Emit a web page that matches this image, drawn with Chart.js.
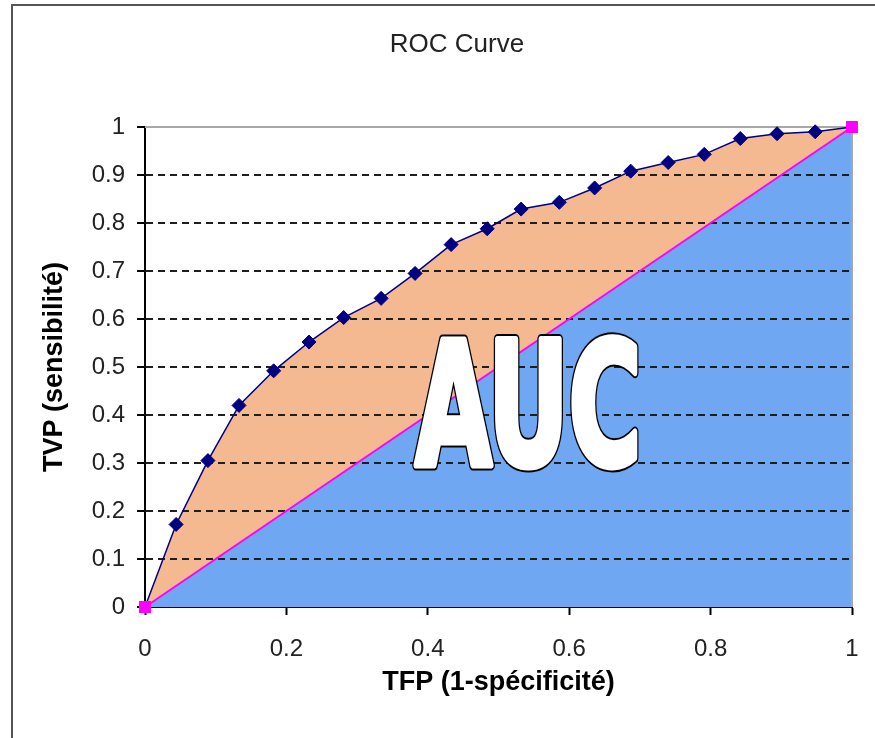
<!DOCTYPE html>
<html>
<head>
<meta charset="utf-8">
<script src="https://cdn.jsdelivr.net/npm/chart.js@4.4.1/dist/chart.umd.min.js"></script>
<style>
  html, body { margin: 0; padding: 0; background: #fff; }
</style>
</head>
<body>
<canvas id="roc" width="875" height="738"></canvas>
<script>
const tfp = [0, 0.044, 0.089, 0.133, 0.182, 0.232, 0.281, 0.334, 0.382, 0.433, 0.484,
             0.532, 0.586, 0.636, 0.687, 0.740, 0.791, 0.842, 0.894, 0.948, 1];
const tvp = [0, 0.172, 0.305, 0.420, 0.492, 0.552, 0.603, 0.643, 0.695, 0.755, 0.788,
             0.829, 0.843, 0.873, 0.908, 0.926, 0.943, 0.976, 0.986, 0.990, 1];
const diagX = [0, 1];
const diagY = [0, 1];

const FONT = '"Liberation Sans", Arial, sans-serif';
Chart.defaults.font.family = FONT;

const rocPoints = tfp.map((v, i) => ({ x: v, y: tvp[i] }));
const diagPoints = diagX.map((v, i) => ({ x: v, y: diagY[i] }));

// cadre, titre, grille au-dessus des aires, texte AUC
const decor = {
  id: 'decor',
  beforeDraw(chart) {
    const ctx = chart.ctx;
    ctx.save();
    ctx.fillStyle = '#fff';
    ctx.fillRect(0, 0, chart.width, chart.height);
    ctx.strokeStyle = '#555';
    ctx.lineWidth = 2;
    ctx.beginPath();
    ctx.moveTo(12, chart.height);
    ctx.lineTo(12, 5);
    ctx.lineTo(chart.width, 5);
    ctx.stroke();
    ctx.fillStyle = '#222';
    ctx.font = '26px ' + FONT;
    ctx.textAlign = 'center';
    ctx.textBaseline = 'middle';
    ctx.fillText('ROC Curve', 457, 45);
    ctx.restore();
  },
  beforeDatasetsDraw(chart) {
    const ctx = chart.ctx;
    chart.scales.y.drawGrid(chart.chartArea);
    const { left, top, right, bottom } = chart.chartArea;
    ctx.save();
    ctx.strokeStyle = '#a8a8a8';
    ctx.lineWidth = 2;
    ctx.beginPath();
    ctx.moveTo(left, top);
    ctx.lineTo(right, top);
    ctx.lineTo(right, bottom);
    ctx.stroke();
    ctx.restore();
  },
  afterDraw(chart) {
    const { ctx, scales: { x, y } } = chart;
    const cx = x.getPixelForValue(0.542);
    const base = y.getPixelForValue(0.296);
    ctx.save();
    ctx.font = 'bold 172px "Liberation Sans Narrow", "DejaVu Sans Condensed", ' + FONT;
    const w = ctx.measureText('AUC').width;
    ctx.translate(cx, base);
    ctx.scale(226 / w, 1);
    ctx.textAlign = 'center';
    ctx.textBaseline = 'alphabetic';
    ctx.lineJoin = 'round';
    // contour noir épais puis remplissage blanc pour un lettrage plus gras
    ctx.lineWidth = 11;
    ctx.strokeStyle = '#000';
    ctx.strokeText('AUC', 0, 0);
    ctx.lineWidth = 7;
    ctx.strokeStyle = '#fff';
    ctx.strokeText('AUC', 0, 0);
    ctx.fillStyle = '#fff';
    ctx.fillText('AUC', 0, 0);
    ctx.restore();
  }
};

new Chart(document.getElementById('roc'), {
  type: 'line',
  data: {
    datasets: [
      {
        label: 'Aléatoire',
        data: diagPoints,
        borderColor: '#ff00ff',
        borderWidth: 2,
        backgroundColor: '#70a7f3',
        fill: 'origin',
        pointStyle: 'rect',
        pointRadius: 7,
        pointBackgroundColor: '#ff00ff',
        pointBorderColor: '#ff00ff',
        clip: false
      },
      {
        label: 'ROC',
        data: rocPoints,
        borderColor: '#000080',
        borderWidth: 1.5,
        backgroundColor: '#f4b990',
        fill: '-1',
        tension: 0,
        pointStyle: 'rectRot',
        pointRadius: rocPoints.map((p, i) => (i === 0 || i === rocPoints.length - 1) ? 0 : 7),
        pointBackgroundColor: '#000080',
        pointBorderColor: '#000080',
        pointBorderWidth: 1,
        clip: false
      }
    ]
  },
  options: {
    responsive: false,
    animation: false,
    layout: { padding: { top: 127, right: 23, left: 0, bottom: 0 } },
    plugins: {
      legend: { display: false },
      tooltip: { enabled: false },
      filler: { drawTime: 'beforeDatasetsDraw' }
    },
    scales: {
      x: {
        type: 'linear',
        min: 0,
        max: 1,
        ticks: {
          stepSize: 0.2,
          padding: 20,
          maxRotation: 0,
          color: '#222',
          font: { size: 24 },
          callback: v => String(+v.toFixed(1))
        },
        grid: { drawOnChartArea: false, tickLength: 8, tickColor: '#000', tickWidth: 2 },
        border: { color: '#000', width: 2 },
        title: {
          display: true,
          text: 'TFP (1-spécificité)',
          color: '#000',
          font: { size: 27, weight: 'bold' },
          padding: { top: 4, bottom: 39 }
        },
        afterFit(scale) {
          scale.height = 131;
          scale.paddingLeft = 0;
          scale.paddingRight = 0;
        }
      },
      y: {
        min: 0,
        max: 1,
        ticks: {
          stepSize: 0.1,
          padding: 12,
          color: '#222',
          font: { size: 24 },
          callback: v => String(+v.toFixed(1))
        },
        grid: {
          color: c => (c.tick && c.tick.value > 0.01 && c.tick.value < 0.99) ? '#1e1e1e' : 'rgba(0,0,0,0)',
          lineWidth: 2,
          tickLength: 8,
          tickColor: '#000',
          tickWidth: 2
        },
        border: { color: '#000', width: 2, dash: [7, 5] },
        title: {
          display: true,
          text: 'TVP (sensibilité)',
          color: '#000',
          font: { size: 27, weight: 'bold' },
          padding: { top: 38, bottom: 4 }
        },
        afterFit(scale) { scale.width = 145; }
      }
    }
  },
  plugins: [decor]
});
</script>
</body>
</html>
